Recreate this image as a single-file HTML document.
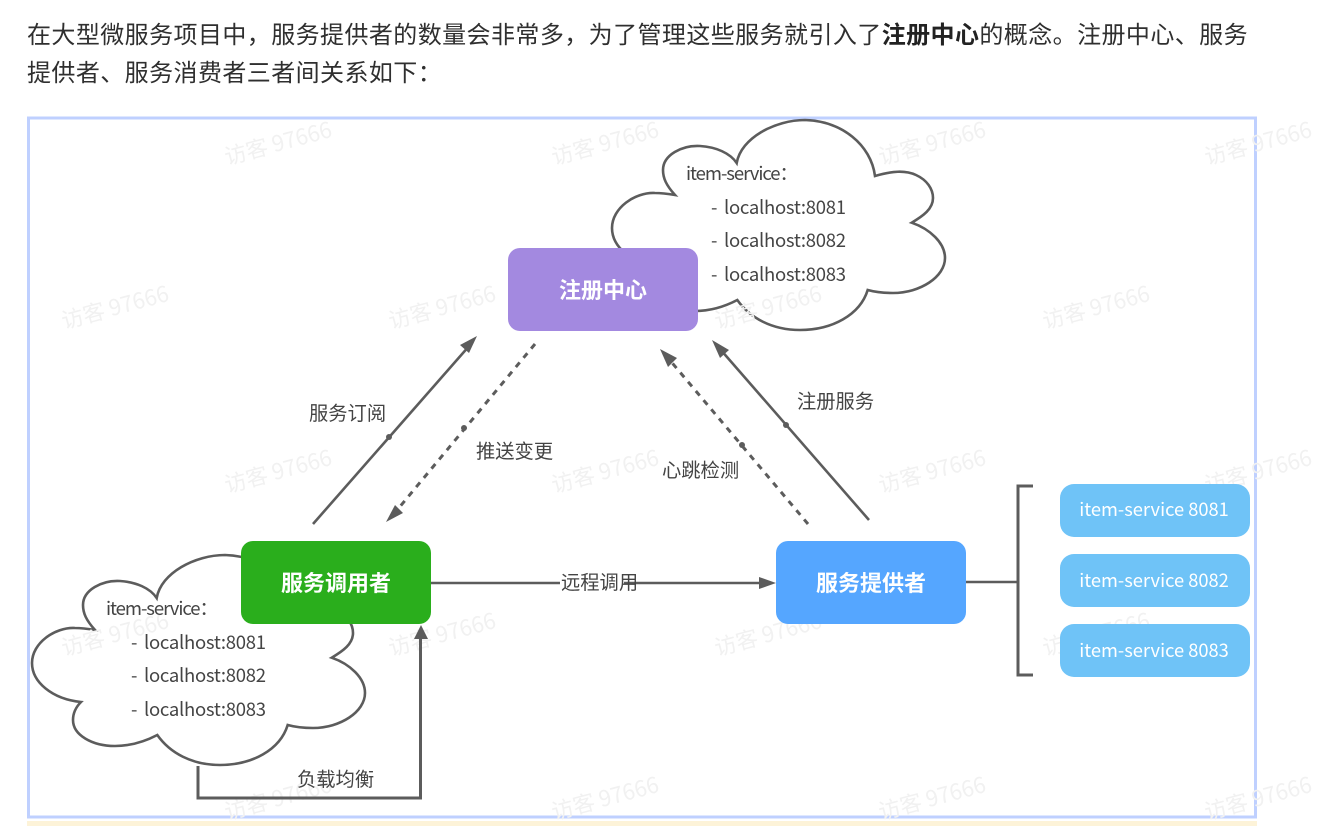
<!DOCTYPE html>
<html lang="zh-CN">
<head>
<meta charset="utf-8">
<title>注册中心</title>
<style>
html,body{margin:0;padding:0;background:#fff;}
body{width:1333px;height:826px;overflow:hidden;position:relative;font-family:"Liberation Sans","Noto Sans CJK SC",sans-serif;}
svg{position:absolute;left:0;top:0;}
.p{position:absolute;left:27px;margin:0;font-size:24px;letter-spacing:.42px;line-height:38px;color:#2f2f2f;white-space:nowrap;}
.p b{font-weight:700;color:#222;}
text{font-family:"Noto Sans CJK SC","Liberation Sans",sans-serif;}
.l{font-size:19.3px;fill:#444;}
.c{font-size:18.5px;fill:#444;}
.t{font-size:22px;font-weight:700;fill:#fff;text-anchor:middle;}
.s{font-size:18.3px;fill:#fff;text-anchor:middle;}
.w{font-size:22px;fill:#f1f1f1;text-anchor:middle;}
</style>
</head>
<body>
<p class="p" style="top:17px">在大型微服务项目中，服务提供者的数量会非常多，为了管理这些服务就引入了<b>注册中心</b>的概念。注册中心、服务</p>
<p class="p" style="top:55px">提供者、服务消费者三者间关系如下：</p>
<svg width="1333" height="826" viewBox="0 0 1333 826">
<defs>
<path id="cloud" d="M675 195 C666 185 663 178 663 170 C663 155 682 145 700 146 C716 147 730 153 736.7 163 C741 138 775 120 805 120 C842 121 871 145 875 176 C892 171 905 170 916 175 C927 180 933 189 933 198 C933 209 923 216 911.7 222.7 C930 229 945 243 945 258 C945 277 920 293 893 293 C884 293 875 292 867.7 290 C860 315 832 330 800 330 C772 330 750 318 737.3 300 C722 308 708 311 695 311 C672 311 653 300 653 285 C653 278 656 272 661 267 C632 264 612 247 612 228 C612 208 635 192 655 193 C662 193 669 194 675 195 Z"/>
</defs>
<rect x="27" y="821" width="1230" height="5" fill="#fdf3d8"/>
<rect x="28.5" y="118" width="1227" height="699" fill="#fff" stroke="#bfd0ff" stroke-width="3"/>

<use href="#cloud" fill="#fff" stroke="#5c5c5c" stroke-width="2.6"/>
<use href="#cloud" transform="translate(-580 435)" fill="#fff" stroke="#5c5c5c" stroke-width="2.6"/>

<g>
<text class="w" transform="rotate(-15 278 143)" x="278" y="151">访客 97666</text>
<text class="w" transform="rotate(-15 605 143)" x="605" y="151">访客 97666</text>
<text class="w" transform="rotate(-15 932 143)" x="932" y="151">访客 97666</text>
<text class="w" transform="rotate(-15 1258 143)" x="1258" y="151">访客 97666</text>
<text class="w" transform="rotate(-15 115 307)" x="115" y="315">访客 97666</text>
<text class="w" transform="rotate(-15 442 307)" x="442" y="315">访客 97666</text>
<text class="w" transform="rotate(-15 768 307)" x="768" y="315">访客 97666</text>
<text class="w" transform="rotate(-15 1096 307)" x="1096" y="315">访客 97666</text>
<text class="w" transform="rotate(-15 278 471)" x="278" y="479">访客 97666</text>
<text class="w" transform="rotate(-15 605 471)" x="605" y="479">访客 97666</text>
<text class="w" transform="rotate(-15 932 471)" x="932" y="479">访客 97666</text>
<text class="w" transform="rotate(-15 1258 471)" x="1258" y="479">访客 97666</text>
<text class="w" transform="rotate(-15 115 634)" x="115" y="642">访客 97666</text>
<text class="w" transform="rotate(-15 442 634)" x="442" y="642">访客 97666</text>
<text class="w" transform="rotate(-15 768 634)" x="768" y="642">访客 97666</text>
<text class="w" transform="rotate(-15 1096 634)" x="1096" y="642">访客 97666</text>
<text class="w" transform="rotate(-15 278 798)" x="278" y="806">访客 97666</text>
<text class="w" transform="rotate(-15 605 798)" x="605" y="806">访客 97666</text>
<text class="w" transform="rotate(-15 932 798)" x="932" y="806">访客 97666</text>
<text class="w" transform="rotate(-15 1258 798)" x="1258" y="806">访客 97666</text>
</g>

<rect x="508" y="248" width="190" height="83" rx="12" fill="#a389e0"/>
<rect x="241" y="541" width="190" height="83" rx="12" fill="#2aae1c"/>
<rect x="776" y="541" width="190" height="83" rx="12" fill="#55a6ff"/>
<rect x="1060" y="484" width="190" height="53" rx="14" fill="#6fc3f7"/>
<rect x="1060" y="554" width="190" height="53" rx="14" fill="#6fc3f7"/>
<rect x="1060" y="624" width="190" height="53" rx="14" fill="#6fc3f7"/>

<text class="t" x="603" y="298">注册中心</text>
<text class="t" x="336" y="591">服务调用者</text>
<text class="t" x="871" y="591">服务提供者</text>
<text class="s" x="1154" y="516">item-service 8081</text>
<text class="s" x="1154" y="587">item-service 8082</text>
<text class="s" x="1154" y="657">item-service 8083</text>

<g fill="none" stroke="#5c5c5c" stroke-width="2.6">
<path d="M313 524 L470 345"/>
<path d="M535 344 L393 515" stroke-dasharray="6 6" stroke-width="3"/>
<path d="M808 524 L668 358" stroke-dasharray="6 6" stroke-width="3"/>
<path d="M869 520 L720 349"/>
<path d="M431 583 H765"/>
<path d="M198 766 V798 H420.5 V636" stroke-width="3"/>
<path d="M966 582 H1018"/>
<path d="M1033 486 H1018 V675 H1033" stroke-width="3"/>
</g>
<g fill="#5c5c5c">
<path d="M477 336 L469 353 L460 345 Z"/>
<path d="M386 522 L395 505 L403 513 Z"/>
<path d="M660 349 L677 358 L668 367 Z"/>
<path d="M712 340 L729 350 L720 358 Z"/>
<path d="M776 583 L759 577 L759 589 Z"/>
<path d="M421 625 L414 639 L428 639 Z"/>
<circle cx="389" cy="437" r="3"/>
<circle cx="464" cy="428" r="3"/>
<circle cx="742" cy="445" r="3"/>
<circle cx="786" cy="425" r="3"/>
</g>

<text class="l" x="309" y="420">服务订阅</text>
<text class="l" x="476" y="458">推送变更</text>
<text class="l" x="662" y="477">心跳检测</text>
<text class="l" x="797" y="408">注册服务</text>
<rect x="560" y="572" width="64" height="20" fill="#fff"/>
<text class="l" x="561" y="589">远程调用</text>
<text class="l" x="297" y="786">负载均衡</text>

<text class="c" x="686" y="180" textLength="112">item-service：</text>
<text class="c" x="711" y="214">-</text><text class="c" x="724" y="214" textLength="122">localhost:8081</text>
<text class="c" x="711" y="247">-</text><text class="c" x="724" y="247" textLength="122">localhost:8082</text>
<text class="c" x="711" y="281">-</text><text class="c" x="724" y="281" textLength="122">localhost:8083</text>
<text class="c" x="106" y="615" textLength="112">item-service：</text>
<text class="c" x="131" y="649">-</text><text class="c" x="144" y="649" textLength="122">localhost:8081</text>
<text class="c" x="131" y="682">-</text><text class="c" x="144" y="682" textLength="122">localhost:8082</text>
<text class="c" x="131" y="716">-</text><text class="c" x="144" y="716" textLength="122">localhost:8083</text>
</svg>
</body>
</html>
